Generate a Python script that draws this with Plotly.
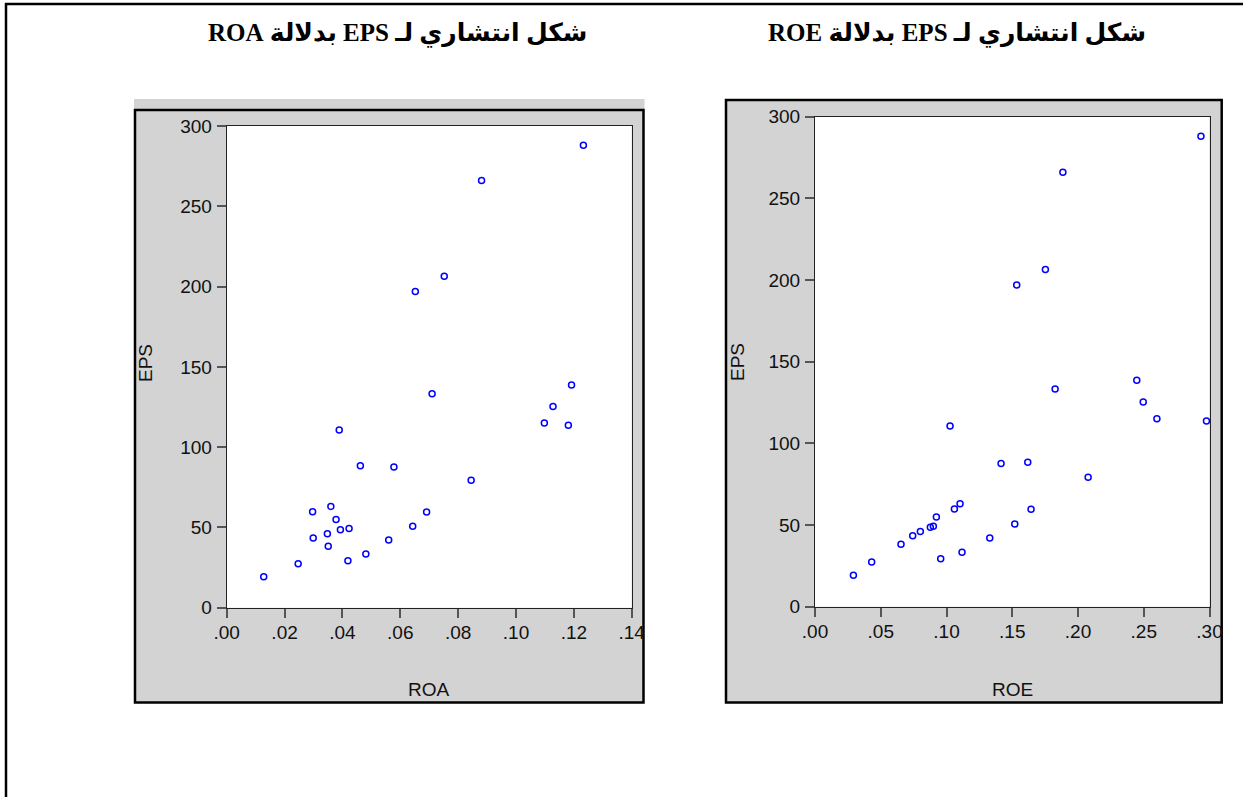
import plotly.graph_objects as go

# ---------------- data ----------------
EPS = [288.0, 266.0, 206.4, 196.9, 138.7, 133.3, 125.3, 115.0, 113.7, 110.7,
       88.4, 87.6, 79.3, 63.1, 59.8, 59.6, 54.9, 50.7, 48.6, 49.3,
       46.1, 43.4, 42.1, 38.3, 33.4, 29.3, 27.4, 19.2]
ROA = [0.1233, 0.0881, 0.0752, 0.0652, 0.1192, 0.0710, 0.1128, 0.1098, 0.1181, 0.0389,
       0.0462, 0.0578, 0.0845, 0.0360, 0.0297, 0.0691, 0.0378, 0.0643, 0.0393, 0.0423,
       0.0348, 0.0299, 0.0560, 0.0351, 0.0481, 0.0419, 0.0247, 0.0128]
ROE = [0.2935, 0.1885, 0.1752, 0.1534, 0.2447, 0.1826, 0.2496, 0.2600, 0.2977, 0.1027,
       0.1618, 0.1415, 0.2077, 0.1103, 0.1060, 0.1643, 0.0923, 0.1519, 0.0877, 0.0900,
       0.0801, 0.0743, 0.1329, 0.0654, 0.1118, 0.0956, 0.0431, 0.0292]

y_ticks = [0, 50, 100, 150, 200, 250, 300]
y_ticktext = ["0", "50", "100", "150", "200", "250", "300"]
roa_ticks = [0.00, 0.02, 0.04, 0.06, 0.08, 0.10, 0.12, 0.14]
roa_ticktext = [".00", ".02", ".04", ".06", ".08", ".10", ".12", ".14"]
roe_ticks = [0.00, 0.05, 0.10, 0.15, 0.20, 0.25, 0.30]
roe_ticktext = [".00", ".05", ".10", ".15", ".20", ".25", ".30"]

title_left = "\u202Bشكل انتشاري لـ EPS بدلالة ROA\u202C"
title_right = "\u202Bشكل انتشاري لـ EPS بدلالة ROE\u202C"

# ---------------- layout geometry ----------------
W, H = 1243, 797
def fx(px):
    return px / W
def fy(py):
    return 1 - py / H

L_plot = (226.7, 631.7, 126.0, 607.7)   # x0, x1, ytop, ybottom
R_plot = (815.0, 1209.5, 116.7, 606.7)

GREY = "#D3D3D3"
BLUE = "#0000FF"
TICKFONT = dict(family="Liberation Sans, Arial, sans-serif", size=19, color="#111")

fig = go.Figure()
fig.add_trace(go.Scatter(x=ROA, y=EPS, mode="markers", xaxis="x", yaxis="y",
                         marker=dict(symbol="circle-open", size=6, color=BLUE,
                                     line=dict(width=1.5, color=BLUE)),
                         cliponaxis=False, showlegend=False, hoverinfo="x+y"))
fig.add_trace(go.Scatter(x=ROE, y=EPS, mode="markers", xaxis="x2", yaxis="y2",
                         marker=dict(symbol="circle-open", size=6, color=BLUE,
                                     line=dict(width=1.5, color=BLUE)),
                         cliponaxis=False, showlegend=False, hoverinfo="x+y"))

def xaxis(domain, rng, tv, tt, anchor):
    return dict(domain=domain, range=rng, tickmode="array", tickvals=tv, ticktext=tt,
                showgrid=False, zeroline=False, showline=True, mirror=True,
                linecolor="#222", linewidth=1, ticks="outside", ticklen=9,
                tickwidth=1.5, tickcolor="#555", tickfont=TICKFONT,
                ticklabelstandoff=-2, anchor=anchor, fixedrange=True, automargin=False)

def yaxis(domain, anchor):
    return dict(domain=domain, range=[0, 300], tickmode="array", tickvals=y_ticks,
                ticktext=y_ticktext, showgrid=False, zeroline=False, showline=True,
                mirror=True, linecolor="#222", linewidth=1, ticks="outside",
                ticklen=9, tickwidth=1.5, tickcolor="#555", tickfont=TICKFONT,
                ticklabelstandoff=1, anchor=anchor, fixedrange=True, automargin=False)

shapes = []
# outer frame (top and left lines)
shapes.append(dict(type="line", xref="paper", yref="paper", x0=fx(5), x1=fx(1243),
                   y0=fy(4), y1=fy(4), line=dict(color="black", width=2.5), layer="below"))
shapes.append(dict(type="line", xref="paper", yref="paper", x0=fx(6), x1=fx(6),
                   y0=fy(3), y1=fy(797), line=dict(color="black", width=2.5), layer="below"))
# left panel: grey band on top + grey bordered box
shapes.append(dict(type="rect", xref="paper", yref="paper", x0=fx(134), x1=fx(644.5),
                   y0=fy(109), y1=fy(99), fillcolor=GREY, line=dict(width=0), layer="below"))
shapes.append(dict(type="rect", xref="paper", yref="paper", x0=fx(135), x1=fx(643.5),
                   y0=fy(702.5), y1=fy(110), fillcolor=GREY,
                   line=dict(color="black", width=2.5), layer="below"))
# right panel box
shapes.append(dict(type="rect", xref="paper", yref="paper", x0=fx(726), x1=fx(1221.7),
                   y0=fy(702.5), y1=fy(100), fillcolor=GREY,
                   line=dict(color="black", width=2.5), layer="below"))
# white plot areas
for (x0, x1, yt, yb) in (L_plot, R_plot):
    shapes.append(dict(type="rect", xref="paper", yref="paper", x0=fx(x0), x1=fx(x1),
                       y0=fy(yb), y1=fy(yt), fillcolor="white", line=dict(width=0),
                       layer="below"))

annotations = []
TITLEFONT = dict(family="Liberation Serif, Times New Roman, DejaVu Sans, serif",
                 size=25, color="black")
annotations.append(dict(text="<b>" + title_left + "</b>", xref="paper", yref="paper",
                        x=fx(397), y=fy(33), showarrow=False, font=TITLEFONT,
                        xanchor="center", yanchor="middle"))
annotations.append(dict(text="<b>" + title_right + "</b>", xref="paper", yref="paper",
                        x=fx(957), y=fy(33), showarrow=False, font=TITLEFONT,
                        xanchor="center", yanchor="middle"))
LABFONT = dict(family="Liberation Sans, Arial, sans-serif", size=19, color="#111")
annotations.append(dict(text="ROA", xref="paper", yref="paper", x=fx(429), y=fy(689),
                        showarrow=False, font=LABFONT, xanchor="center", yanchor="middle"))
annotations.append(dict(text="ROE", xref="paper", yref="paper", x=fx(1012), y=fy(689),
                        showarrow=False, font=LABFONT, xanchor="center", yanchor="middle"))
annotations.append(dict(text="EPS", xref="paper", yref="paper", x=fx(146), y=fy(363),
                        showarrow=False, font=LABFONT, textangle=-90,
                        xanchor="center", yanchor="middle"))
annotations.append(dict(text="EPS", xref="paper", yref="paper", x=fx(737), y=fy(362),
                        showarrow=False, font=LABFONT, textangle=-90,
                        xanchor="center", yanchor="middle"))

fig.update_layout(
    template="none",
    width=W, height=H, margin=dict(l=0, r=0, t=0, b=0, pad=0, autoexpand=False),
    paper_bgcolor="white", plot_bgcolor="rgba(0,0,0,0)",
    xaxis=xaxis([fx(L_plot[0]), fx(L_plot[1])], [0, 0.14], roa_ticks, roa_ticktext, "y"),
    yaxis=yaxis([fy(L_plot[3]), fy(L_plot[2])], "x"),
    xaxis2=xaxis([fx(R_plot[0]), fx(R_plot[1])], [0, 0.30], roe_ticks, roe_ticktext, "y2"),
    yaxis2=yaxis([fy(R_plot[3]), fy(R_plot[2])], "x2"),
    shapes=shapes, annotations=annotations, showlegend=False,
)

fig.write_html("out.html", config={"displayModeBar": False},
               post_script="document.body.style.margin='0';"
                           "document.body.style.padding='0';"
                           "document.body.style.overflow='hidden';")
